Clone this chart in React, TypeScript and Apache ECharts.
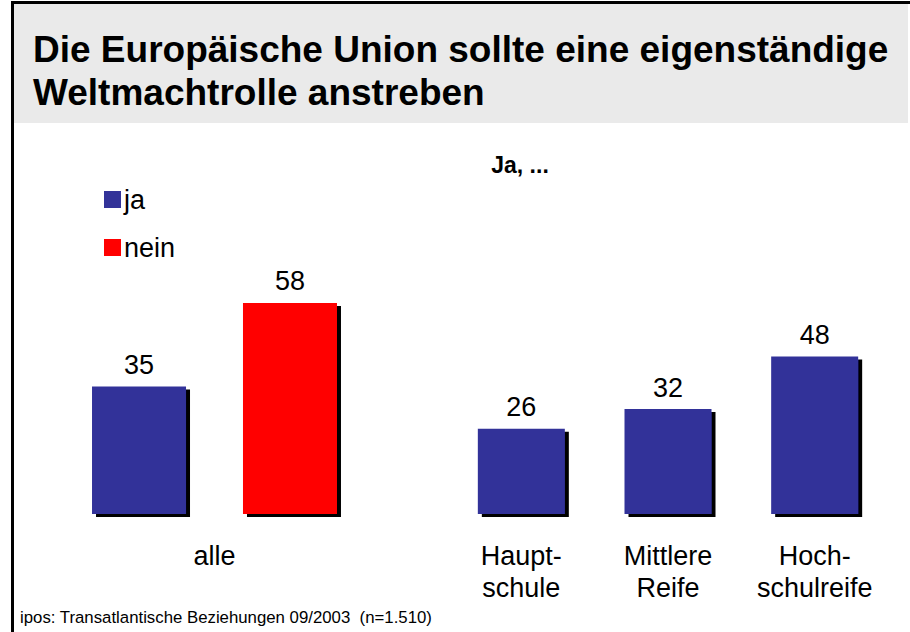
import React, { useEffect, useRef } from "react";
import * as echarts from "echarts";

const titleLines = ["Die Europäische Union sollte eine eigenständige", "Weltmachtrolle anstreben"];
const seriesNames = ["ja", "nein"];
const leftCategories = ["alle"];
const leftJa = [35];
const leftNein = [58];
const rightCategories = ["Haupt-\nschule", "Mittlere\nReife", "Hoch-\nschulreife"];
const rightJa = [26, 32, 48];
const subheading = "Ja, ...";
const footnote = "ipos: Transatlantische Beziehungen 09/2003  (n=1.510)";

const BLUE = "#333399";
const RED = "#ff0000";
const FONT = "'Liberation Sans', Arial, Helvetica, sans-serif";

export default function App() {
  const ref = useRef<HTMLDivElement>(null);

  useEffect(() => {
    if (!ref.current) return;
    const chart = echarts.init(ref.current, undefined, { renderer: "svg" });

    const shadow = {
      shadowColor: "#000",
      shadowBlur: 0,
      shadowOffsetX: 4,
      shadowOffsetY: 3,
    };
    const valueLabel = {
      show: true,
      position: "top",
      distance: 8,
      fontSize: 27,
      color: "#000",
      fontFamily: FONT,
    };
    const catAxisCommon = {
      type: "category",
      axisLine: { show: false },
      axisTick: { show: false },
      axisLabel: {
        fontSize: 27,
        lineHeight: 32,
        margin: 26,
        color: "#000",
        fontFamily: FONT,
        interval: 0,
      },
    };

    chart.setOption({
      animation: false,
      backgroundColor: "#fff",
      textStyle: { fontFamily: FONT },
      graphic: [
        { type: "rect", shape: { x: 14, y: 4, width: 894, height: 119 }, style: { fill: "#eaeaea" }, silent: true, z: -10 },
        { type: "rect", shape: { x: 11, y: 1, width: 3, height: 631 }, style: { fill: "#000" }, silent: true },
        { type: "rect", shape: { x: 11, y: 1, width: 899, height: 3 }, style: { fill: "#000" }, silent: true },
        {
          type: "text",
          x: 520,
          y: 165,
          style: {
            text: subheading,
            fontSize: 23,
            fontWeight: "bold",
            fontFamily: FONT,
            fill: "#000",
            align: "center",
            verticalAlign: "middle",
          },
        },
        {
          type: "text",
          x: 20,
          y: 617,
          style: {
            text: footnote,
            fontSize: 16.8,
            fontFamily: FONT,
            fill: "#000",
            align: "left",
            verticalAlign: "middle",
          },
        },
      ],
      title: {
        text: titleLines.join("\n"),
        left: 33,
        top: 28,
        padding: 0,
        textStyle: {
          fontSize: 37,
          fontWeight: "bold",
          lineHeight: 43,
          color: "#000",
          fontFamily: FONT,
        },
      },
      legend: {
        data: seriesNames,
        orient: "vertical",
        left: 104,
        top: 186,
        padding: 0,
        itemWidth: 17,
        itemHeight: 17,
        itemGap: 21,
        icon: "rect",
        itemStyle: { shadowColor: "transparent", shadowOffsetX: 0, shadowOffsetY: 0 },
        textStyle: { fontSize: 27, color: "#000", fontFamily: FONT, padding: [0, 0, 0, -2] },
      },
      grid: [
        { left: 50, width: 329, top: 150, height: 364 },
        { left: 448, width: 440, top: 150, height: 364 },
      ],
      xAxis: [
        { ...catAxisCommon, gridIndex: 0, data: leftCategories },
        { ...catAxisCommon, gridIndex: 1, data: rightCategories },
      ],
      yAxis: [
        { type: "value", gridIndex: 0, min: 0, max: 100, show: false, splitLine: { show: false } },
        { type: "value", gridIndex: 1, min: 0, max: 111, show: false, splitLine: { show: false } },
      ],
      series: [
        {
          name: seriesNames[0],
          type: "bar",
          xAxisIndex: 0,
          yAxisIndex: 0,
          data: leftJa,
          barWidth: 94,
          barGap: "60.6%",
          itemStyle: { color: BLUE, ...shadow },
          label: valueLabel,
        },
        {
          name: seriesNames[1],
          type: "bar",
          xAxisIndex: 0,
          yAxisIndex: 0,
          data: leftNein,
          barWidth: 94,
          barGap: "60.6%",
          itemStyle: { color: RED, ...shadow },
          label: valueLabel,
        },
        {
          name: seriesNames[0],
          type: "bar",
          xAxisIndex: 1,
          yAxisIndex: 1,
          data: rightJa,
          barWidth: 87,
          itemStyle: { color: BLUE, ...shadow },
          label: valueLabel,
        },
      ],
    });

    return () => chart.dispose();
  }, []);

  return (
    <div
      ref={ref}
      style={{ position: "absolute", left: 0, top: 0, width: 910, height: 632 }}
    />
  );
}
